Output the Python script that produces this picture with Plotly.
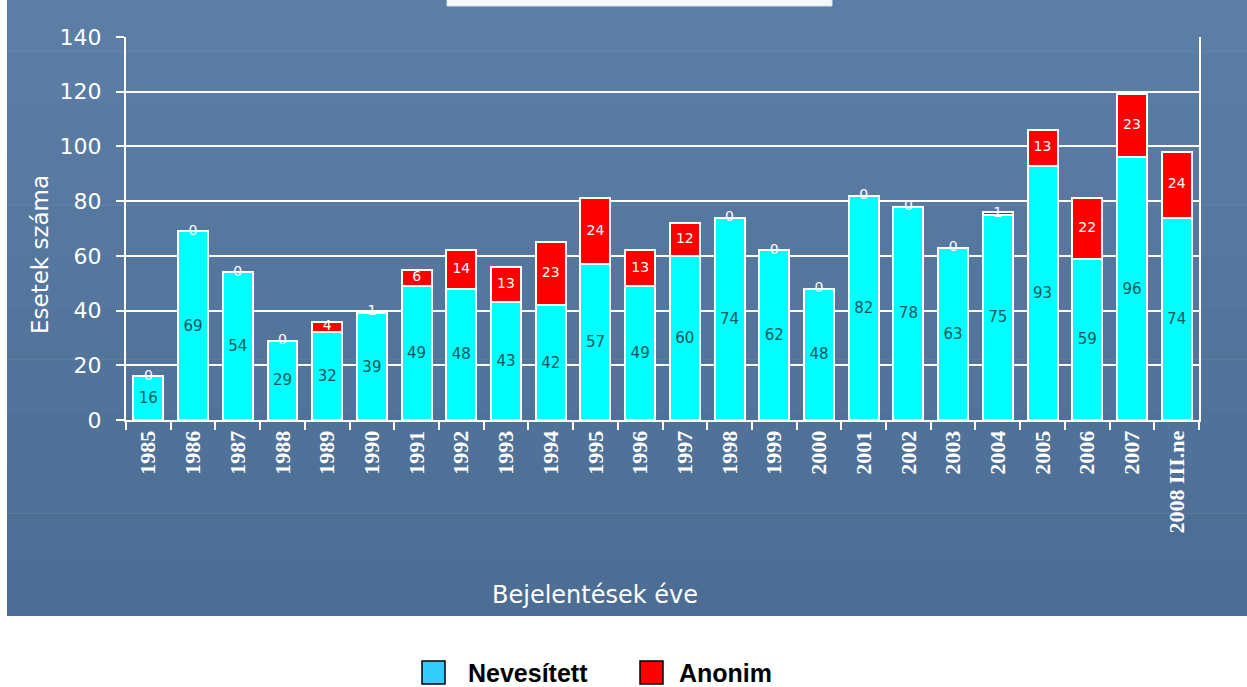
import plotly.graph_objects as go

years = ["1985", "1986", "1987", "1988", "1989", "1990", "1991", "1992", "1993", "1994",
         "1995", "1996", "1997", "1998", "1999", "2000", "2001", "2002", "2003", "2004",
         "2005", "2006", "2007", "2008 III.ne"]
nevesitett = [16, 69, 54, 29, 32, 39, 49, 48, 43, 42, 57, 49, 60, 74, 62, 48, 82, 78, 63, 75, 93, 59, 96, 74]
anonim = [0, 0, 0, 0, 4, 1, 6, 14, 13, 23, 24, 13, 12, 0, 0, 0, 0, 0, 0, 1, 13, 22, 23, 24]
y_ticks = [0, 20, 40, 60, 80, 100, 120, 140]

W, H = 1247, 687
L, R, T, B = 126, 48, 37, 267
PW, PH = W - L - R, H - T - B


def px(x):
    return (x - L) / PW


def py(y):
    return 1 - (y - T) / PH


fig = go.Figure()
fig.add_trace(go.Bar(
    x=years, y=nevesitett, name="Nevesített",
    marker=dict(color="#00FFFF", line=dict(color="white", width=2)),
    text=[str(v) for v in nevesitett], textposition="inside",
    insidetextanchor="middle", textangle=0, constraintext="none",
    textfont=dict(family="DejaVu Sans", size=15, color="#0a5858"),
    showlegend=False,
))
fig.add_trace(go.Bar(
    x=years, y=anonim, name="Anonim",
    marker=dict(color="#FF0000", line=dict(color="white", width=2)),
    showlegend=False, hoverinfo="y",
))
fig.add_trace(go.Scatter(
    x=years, y=[n + a / 2 for n, a in zip(nevesitett, anonim)],
    mode="text", text=[str(a) for a in anonim],
    textfont=dict(family="DejaVu Sans", size=14, color="white"),
    showlegend=False, hoverinfo="skip",
))

shapes = []
# blue backdrop with slight vertical gradient
top_c = (0x5C, 0x7D, 0xA5)
bot_c = (0x4C, 0x6E, 0x95)
n_b = 12
for i in range(n_b):
    t = i / (n_b - 1)
    c = tuple(int(round(top_c[k] + (bot_c[k] - top_c[k]) * t)) for k in range(3))
    y0 = 616 * i / n_b
    y1 = 616 * (i + 1) / n_b
    shapes.append(dict(type="rect", xref="paper", yref="paper",
                       x0=px(7), x1=px(1247), y0=py(y1 + (0.5 if i < n_b - 1 else 0)), y1=py(y0),
                       fillcolor="rgb(%d,%d,%d)" % c, line=dict(width=0), layer="below"))
# partial white box at top
shapes.append(dict(type="rect", xref="paper", yref="paper",
                   x0=px(447), x1=px(832), y0=py(6), y1=py(-2),
                   fillcolor="#f6fafb", line=dict(color="#cfe6ee", width=1), layer="below"))
# legend swatches
shapes.append(dict(type="rect", xref="paper", yref="paper",
                   x0=px(422), x1=px(445), y0=py(684), y1=py(661),
                   fillcolor="#33CCFF", line=dict(color="black", width=1.5)))
shapes.append(dict(type="rect", xref="paper", yref="paper",
                   x0=px(640), x1=px(663), y0=py(684), y1=py(661),
                   fillcolor="#FF0000", line=dict(color="black", width=1.5)))

annotations = [
    dict(text="Esetek száma", xref="paper", yref="paper", x=px(40), y=py(255),
         textangle=-90, showarrow=False, xanchor="center", yanchor="middle",
         font=dict(family="DejaVu Sans", size=23, color="white")),
    dict(text="Bejelentések éve", xref="paper", yref="paper", x=px(595), y=py(595),
         showarrow=False, xanchor="center", yanchor="middle",
         font=dict(family="DejaVu Sans", size=24, color="white")),
    dict(text="<b>Nevesített</b>", xref="paper", yref="paper", x=px(466), y=py(673),
         showarrow=False, xanchor="left", yanchor="middle",
         font=dict(family="Liberation Sans", size=25, color="black")),
    dict(text="<b>Anonim</b>", xref="paper", yref="paper", x=px(677), y=py(673),
         showarrow=False, xanchor="left", yanchor="middle",
         font=dict(family="Liberation Sans", size=25, color="black")),
]

fig.update_layout(
    width=W, height=H,
    margin=dict(l=L, r=R, t=T, b=B, pad=0),
    paper_bgcolor="white", plot_bgcolor="rgba(0,0,0,0)",
    barmode="stack", bargap=0.33,
    shapes=shapes, annotations=annotations,
    xaxis=dict(
        type="category", range=[-0.5, len(years) - 0.5], tickangle=-90,
        ticks="outside", ticklen=8, tickwidth=2,
        tickcolor="white", tickson="boundaries", showline=True, linecolor="white",
        linewidth=2, showgrid=False, zeroline=False,
        tickfont=dict(family="Liberation Serif", size=22, color="white", weight="bold"),
    ),
    yaxis=dict(
        range=[0, 140], tickvals=y_ticks, ticks="outside", ticklen=8, tickwidth=2,
        tickcolor="white", showline=True, mirror=True, linecolor="white", linewidth=2,
        showgrid=True, gridcolor="white", gridwidth=2, zeroline=False,
        ticklabelstandoff=10,
        tickfont=dict(family="DejaVu Sans", size=22, color="white"),
    ),
)

fig.write_html("out.html", config={"displayModeBar": False},
               post_script="document.body.style.margin='0px';document.body.style.overflow='hidden';")
